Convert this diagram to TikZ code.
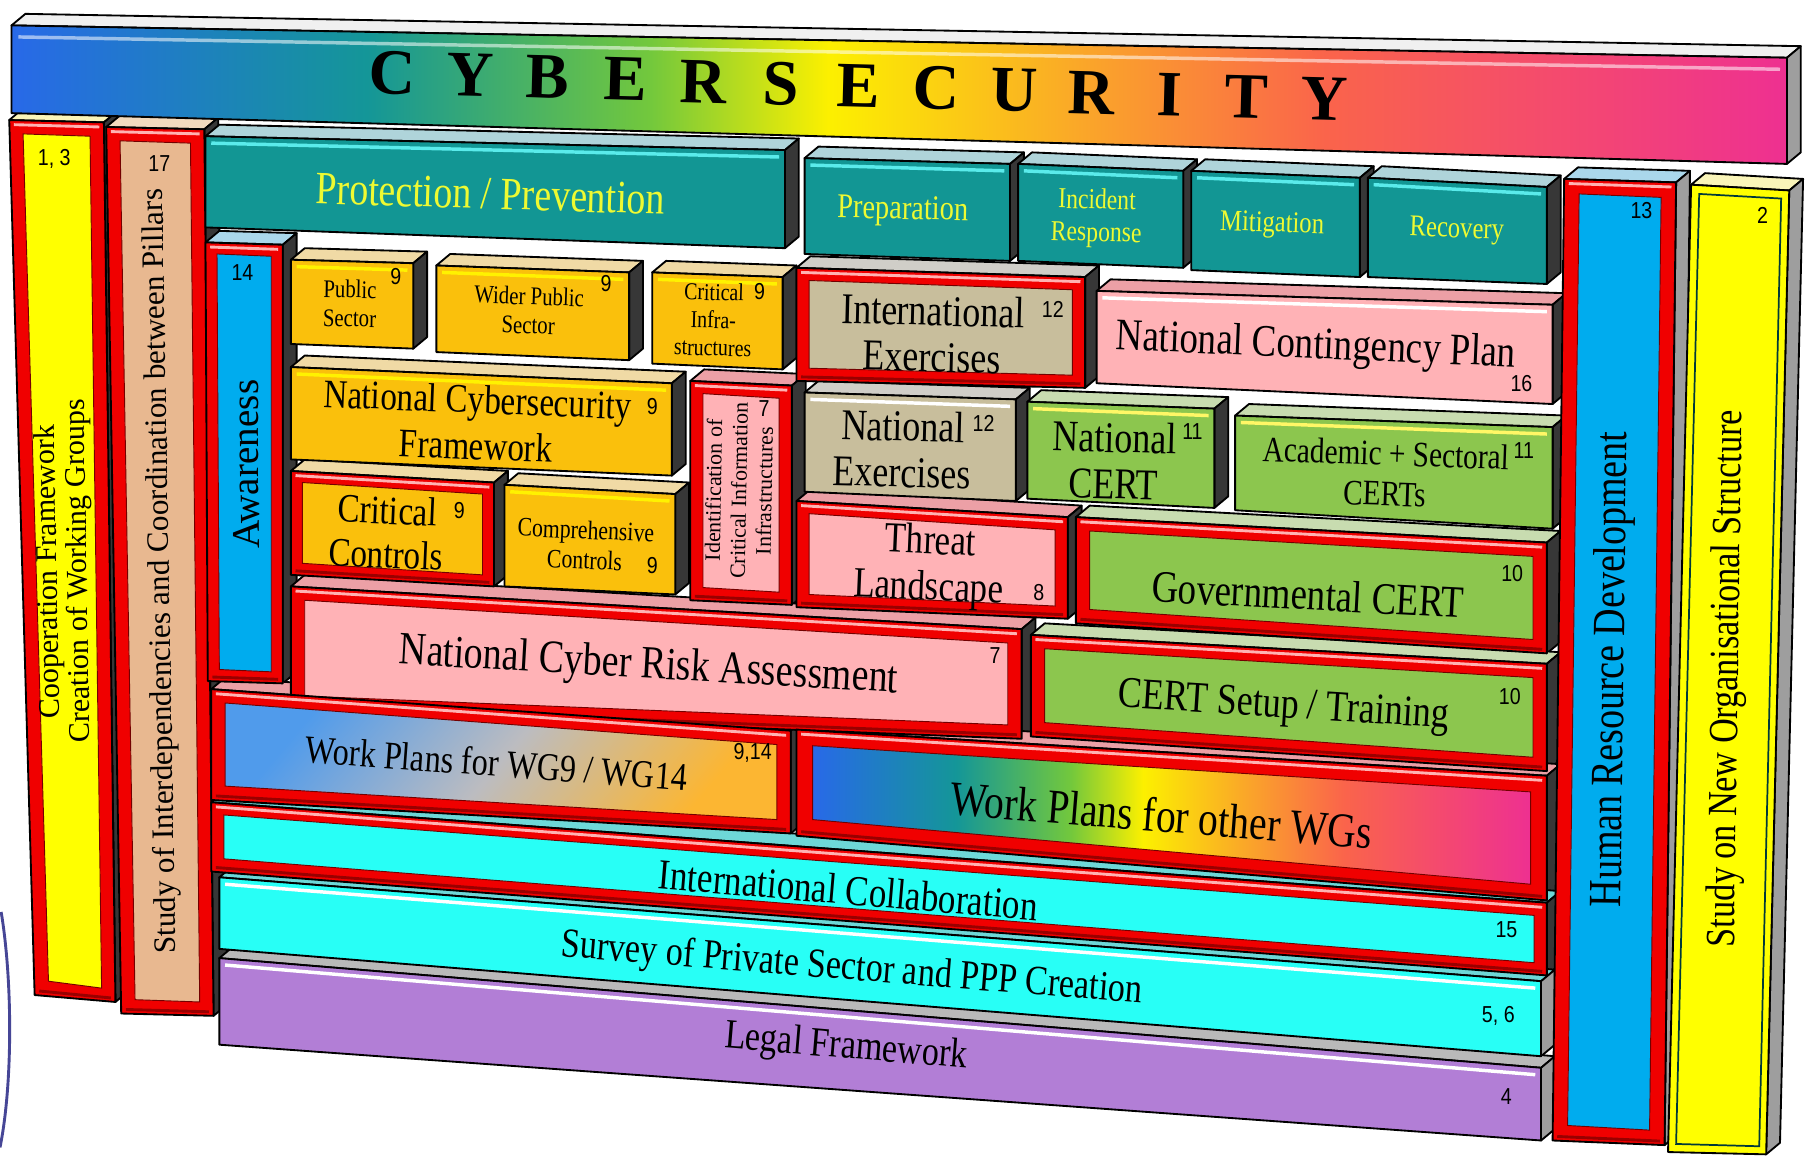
\documentclass[tikz,border=0pt]{standalone}
\usepackage{fontspec}
\setmainfont{Liberation Serif}
\newfontfamily\cnd{Liberation Serif}[FakeStretch=0.82]
\newfontfamily\numf{Liberation Sans}[FakeStretch=0.85]
\usetikzlibrary{calc}
\pgfdeclarelayer{bottom}
\pgfdeclarelayer{back}
\pgfsetlayers{bottom,back,main}
\definecolor{teal1}{RGB}{18,150,148}
\definecolor{teallt}{RGB}{90,235,235}
\definecolor{tealtop}{RGB}{175,212,218}
\definecolor{org}{RGB}{250,192,12}
\definecolor{orgtop}{RGB}{240,218,165}
\definecolor{rd}{RGB}{240,0,0}
\definecolor{tanp}{RGB}{232,184,144}
\definecolor{tanptop}{RGB}{242,218,190}
\definecolor{ylw}{RGB}{255,255,0}
\definecolor{ylwtop}{RGB}{250,245,185}
\definecolor{blu}{RGB}{0,172,238}
\definecolor{blutop}{RGB}{170,215,235}
\definecolor{pnk}{RGB}{255,178,182}
\definecolor{pnktop}{RGB}{236,160,166}
\definecolor{tanx}{RGB}{200,190,156}
\definecolor{greytop}{RGB}{208,206,200}
\definecolor{grn}{RGB}{140,198,78}
\definecolor{grntop}{RGB}{200,220,176}
\definecolor{cyn}{RGB}{40,255,246}
\definecolor{cyntop}{RGB}{110,215,215}
\definecolor{prp}{RGB}{178,126,214}
\definecolor{side}{RGB}{55,55,55}
\definecolor{sidegr}{RGB}{158,158,158}
\definecolor{ptxt}{RGB}{238,250,50}
\definecolor{arcc}{RGB}{70,70,150}
\definecolor{rbA}{RGB}{40,105,232}
\definecolor{rbB}{RGB}{20,150,152}
\definecolor{rbC}{RGB}{115,200,60}
\definecolor{rbD}{RGB}{252,240,0}
\definecolor{rbE}{RGB}{250,168,40}
\definecolor{rbF}{RGB}{250,100,75}
\definecolor{rbG}{RGB}{238,48,145}
\definecolor{wA}{RGB}{80,155,235}
\definecolor{wB}{RGB}{188,188,192}
\definecolor{wC}{RGB}{252,182,50}
\pgfdeclarehorizontalshading{rainbow}{100bp}{color(0bp)=(rbA); color(25bp)=(rbA); color(35bp)=(rbB); color(43bp)=(rbC); color(48bp)=(rbD); color(55bp)=(rbE); color(62bp)=(rbF); color(75bp)=(rbG); color(100bp)=(rbG)}
\pgfdeclarehorizontalshading{wgnine}{100bp}{color(0bp)=(wA); color(25bp)=(wA); color(50bp)=(wB); color(75bp)=(wC); color(100bp)=(wC)}
\newcommand\fs[2]{\fontsize{#1}{#2}\selectfont}
\newcommand\dx{12}
\newcommand\dy{-10}
\newcommand\blk[7]{%
 \begin{pgfonlayer}{back}
 \filldraw[edge, fill=#6] (#1) -- ($(#1)+(\dx,\dy)$) -- ($(#2)+(\dx,\dy)$) -- (#2) -- cycle;
 \filldraw[edge, fill=#7] (#2) -- ($(#2)+(\dx,\dy)$) -- ($(#3)+(\dx,\dy)$) -- (#3) -- cycle;
 \end{pgfonlayer}
 \path[edge, #5] (#1) -- (#2) -- (#3) -- (#4) -- cycle;}
\newcommand\rblk[8]{%
 \blk{#1}{#2}{#3}{#4}{fill=rd}{#6}{#7}%
 \draw[line width=2.5pt, red!30!white] ($(#1)+(4,4)$) -- ($(#2)+(-4,4)$);
 \draw[line width=2.5pt, red!60!black] ($(#4)+(4,-3.5)$) -- ($(#3)+(-4,-3.5)$);
 \path[draw=red!45!black, line width=0.8pt, #5] ($(#1)+(#8,#8)$) -- ($(#2)+(-#8,#8)$) -- ($(#3)+(-#8,-#8)$) -- ($(#4)+(#8,-#8)$) -- cycle;}
\newcommand\hl[3]{\draw[line width=3pt, #3] ($(#1)+(5,6)$) -- ($(#2)+(-5,6)$);}
\tikzset{
 edge/.style={draw=black, line width=1.6pt, line join=round},
 lbl/.style={font=\numf\fs{20}{22}, inner sep=0},
 tx/.style={align=center, inner sep=0},
}
\begin{document}
\begin{tikzpicture}[x=1pt,y=-1pt]
\begin{pgfonlayer}{bottom}
\fill[white] (0,0) rectangle (1568,1004);
\end{pgfonlayer}
\useasboundingbox (0,0) rectangle (1568,1004);
% left arc
\draw[line width=2.5pt, arcc] (1,790) .. controls (11,850) and (11,940) .. (0,994);
% left pillars
\rblk{8,104}{90,106}{100,868}{30,862}{fill=ylw}{ylwtop}{side}{12}
\rblk{92,110}{177,112}{185,880}{105,878}{fill=tanp}{tanptop}{side}{12}
% top bar
\blk{10,22}{1548,50}{1548,142}{10,98}{shade, shading=rainbow}{gray!12}{sidegr}
\draw[line width=3pt, white, opacity=0.55] (16,32) -- (1542,60);
% teal row
\blk{178,118}{680,130}{680,215}{178,197}{fill=teal1}{tealtop}{side}
\hl{178,118}{680,130}{teallt}
\blk{697,137}{875,142}{875,226}{697,220}{fill=teal1}{tealtop}{side}
\hl{697,137}{875,142}{teallt}
\blk{882,142}{1025,148}{1025,232}{882,226}{fill=teal1}{tealtop}{side}
\hl{882,142}{1025,148}{teallt}
\blk{1032,148}{1178,154}{1178,240}{1032,234}{fill=teal1}{tealtop}{side}
\hl{1032,148}{1178,154}{teallt}
\blk{1185,154}{1340,162}{1340,246}{1185,240}{fill=teal1}{tealtop}{side}
\hl{1185,154}{1340,162}{teallt}
% right pillars
\rblk{1355,155}{1452,158}{1442,992}{1345,988}{fill=blu}{blutop}{sidegr}{13}
\blk{1465,160}{1550,165}{1530,1000}{1445,998}{fill=ylw}{ylwtop}{sidegr}
\draw[line width=1.5pt, teal!45!black] (1472,168) -- (1543,172) -- (1524,993) -- (1452,991) -- cycle;
% awareness
\rblk{178,210}{245,212}{245,592}{180,590}{fill=blu}{blutop}{side}{10}
% orange row
\blk{252,225}{358,228}{358,302}{252,298}{fill=org}{orgtop}{side}
\hl{252,225}{358,228}{yellow}
\blk{378,230}{545,236}{545,312}{378,305}{fill=org}{orgtop}{side}
\hl{378,230}{545,236}{yellow}
\blk{565,236}{678,240}{678,320}{565,315}{fill=org}{orgtop}{side}
\hl{565,236}{678,240}{yellow}
\blk{252,318}{582,332}{582,412}{252,398}{fill=org}{orgtop}{side}
\hl{252,318}{582,332}{yellow}
\rblk{252,408}{428,418}{428,508}{252,498}{fill=org}{orgtop}{side}{10}
\blk{437,420}{585,428}{585,515}{437,508}{fill=org}{orgtop}{side}
\hl{437,420}{585,428}{yellow}
\rblk{598,330}{686,334}{686,524}{598,520}{fill=pnk}{pnktop}{side}{11}
% right middle
\rblk{690,232}{940,240}{940,336}{690,330}{fill=tanx}{greytop}{side}{11}
\blk{950,252}{1345,264}{1345,350}{950,332}{fill=pnk}{pnktop}{side}
\hl{950,252}{1345,264}{white}
\blk{697,340}{880,346}{880,434}{697,426}{fill=tanx}{greytop}{side}
\hl{697,340}{880,346}{white}
\blk{890,348}{1052,354}{1052,440}{890,432}{fill=grn}{grntop}{side}
\hl{890,348}{1052,354}{yellow!60!white}
\blk{1070,360}{1345,370}{1345,458}{1070,442}{fill=grn}{grntop}{side}
\hl{1070,360}{1345,370}{yellow!60!white}
\rblk{690,434}{925,448}{925,536}{690,526}{fill=pnk}{pnktop}{side}{11}
\rblk{932,448}{1340,470}{1340,566}{932,540}{fill=grn}{grntop}{side}{12}
\rblk{252,508}{885,545}{885,640}{252,615}{fill=pnk}{pnktop}{side}{12}
\rblk{893,550}{1340,575}{1340,668}{893,638}{fill=grn}{grntop}{side}{12}
% work plans
\rblk{183,597}{685,633}{685,722}{183,693}{shade, shading=wgnine, shading angle=-40}{pnktop}{side}{12}
\rblk{690,632}{1340,672}{1340,780}{690,724}{shade, shading=rainbow}{pnktop}{side}{14}
% bottom bars
\rblk{183,695}{1340,782}{1340,845}{183,755}{fill=cyn}{cyntop}{side}{11}
\blk{190,760}{1335,850}{1335,915}{190,822}{fill=cyn}{cyntop}{sidegr}
\hl{190,760}{1335,850}{white}
\blk{190,830}{1335,925}{1335,988}{190,905}{fill=prp}{gray!55}{sidegr}
\hl{190,830}{1335,925}{white}
% title letters
\foreach \L [count=\i from 0] in {C,Y,B,E,R,S,E,C,U,R,I,T,Y}
  \node[tx, font=\bfseries\fs{56}{60}, rotate=-1.5] (cy\i) at ({340+67.3*\i},{63+1.9*\i}) {\L};
% pillar texts
\node[tx, rotate=91, font=\fs{26}{26}] (tcoop) at (56,495) {Cooperation Framework\\Creation of Working Groups};
\node[tx, rotate=91, font=\fs{27}{28}] (tstud) at (140,495) {Study of Interdependencies and Coordination between Pillars};
\node[tx, rotate=90.5, font=\fs{34}{36}] (taw) at (213,402) {Awareness};
\node[tx, rotate=89.3, font=\cnd\fs{40}{42}] (thrd) at (1397,580) {Human Resource Development};
\node[tx, rotate=89.2, font=\cnd\fs{36}{38}] (tsno) at (1497,588) {Study on New Organisational Structure};
% box texts
\node[tx, rotate=-1.8, text=ptxt, font=\cnd\fs{40}{44}] (tpp) at (425,168) {Protection / Prevention};
\node[tx, rotate=-1.2, text=ptxt, font=\cnd\fs{30}{32}] (tprep) at (782,183) {Preparation};
\node[tx, rotate=-1.5, text=ptxt, font=\cnd\fs{25}{28}] (tinc) at (950,189) {Incident\\Response};
\node[tx, rotate=-1.8, text=ptxt, font=\cnd\fs{26}{28}] (tmit) at (1102,195) {Mitigation};
\node[tx, rotate=-2, text=ptxt, font=\cnd\fs{26}{28}] (trec) at (1262,200) {Recovery};
\node[tx, rotate=-1, font=\cnd\fs{22}{25}] (tps) at (303,263) {Public\\Sector};
\node[tx, rotate=-2, font=\cnd\fs{22}{25}] (twps) at (458,269) {Wider Public\\Sector};
\node[tx, rotate=-1.5, font=\cnd\fs{21}{24}] (tci) at (618,277) {Critical\\Infra-\\structures};
\node[tx, rotate=-2.3, font=\cnd\fs{35}{40}] (tncf) at (413,366) {National Cybersecurity\\Framework};
\node[tx, rotate=-2.5, font=\cnd\fs{35}{38}] (tcc) at (335,461) {Critical\\Controls};
\node[tx, rotate=-2.5, font=\cnd\fs{23}{26}] (tcomp) at (507,472) {Comprehensive\\Controls};
\node[tx, rotate=89, font=\fs{19}{22}] (tid) at (640,425) {Identification of\\Critical Information\\Infrastructures};
\node[tx, rotate=-1.5, font=\cnd\fs{38}{40}] (tie) at (808,289) {International\\Exercises};
\node[tx, rotate=-2.5, font=\cnd\fs{39}{42}] (tncp) at (1140,301) {National Contingency Plan};
\node[tx, rotate=-1.5, font=\cnd\fs{38}{40}] (tne) at (782,389) {National\\Exercises};
\node[tx, rotate=-1.5, font=\cnd\fs{38}{40}] (tnc) at (965,399) {National\\CERT};
\node[tx, rotate=-2, font=\cnd\fs{31}{35}] (tac) at (1200,410) {Academic + Sectoral\\CERTs};
\node[tx, rotate=-2.5, font=\cnd\fs{37}{40}] (ttl) at (805,491) {Threat\\Landscape};
\node[tx, rotate=-3, font=\cnd\fs{39}{42}] (tgc) at (1133,515) {Governmental CERT};
\node[tx, rotate=-3.3, font=\cnd\fs{40}{44}] (tncra) at (562,578) {National Cyber Risk Assessment};
\node[tx, rotate=-3.7, font=\cnd\fs{38}{42}] (tcs) at (1112,613) {CERT Setup / Training};
\node[tx, rotate=-4.2, font=\cnd\fs{34}{38}] (twg9) at (430,661) {Work Plans for WG9 / WG14};
\node[tx, rotate=-4.6, font=\cnd\fs{42}{46}] (twgo) at (1006,706) {Work Plans for other WGs};
\node[tx, rotate=-4.8, font=\cnd\fs{37}{40}] (tic) at (735,771) {International Collaboration};
\node[tx, rotate=-4.6, font=\cnd\fs{36}{40}] (tsv) at (738,840) {Survey of Private Sector and PPP Creation};
\node[tx, rotate=-4.8, font=\cnd\fs{36}{40}] (tlf) at (733,908) {Legal Framework};
% number labels
\node[lbl] (l13) at (47,138) {1, 3};
\node[lbl] (l17) at (138,142) {17};
\node[lbl] (l14) at (210,236) {14};
\node[lbl] (l9a) at (343,240) {9};
\node[lbl] (l9b) at (525,246) {9};
\node[lbl] (l9c) at (658,253) {9};
\node[lbl] (l9d) at (565,352) {9};
\node[lbl] (l7a) at (662,354) {7};
\node[lbl] (l9e) at (398,442) {9};
\node[lbl] (l9f) at (565,490) {9};
\node[lbl] (l12a) at (912,268) {12};
\node[lbl] (l16) at (1318,332) {16};
\node[lbl] (l12b) at (852,367) {12};
\node[lbl] (l11a) at (1033,374) {11};
\node[lbl] (l11b) at (1320,390) {11};
\node[lbl] (l8) at (900,513) {8};
\node[lbl] (l10a) at (1310,497) {10};
\node[lbl] (l7b) at (862,568) {7};
\node[lbl] (l10b) at (1308,603) {10};
\node[lbl] (l914) at (652,652) {9,14};
\node[lbl] (l15) at (1305,805) {15};
\node[lbl] (l56) at (1298,880) {5, 6};
\node[lbl] (l4) at (1305,950) {4};
\node[lbl] (l13b) at (1422,182) {13};
\node[lbl] (l2) at (1527,187) {2};
\end{tikzpicture}
\end{document}
